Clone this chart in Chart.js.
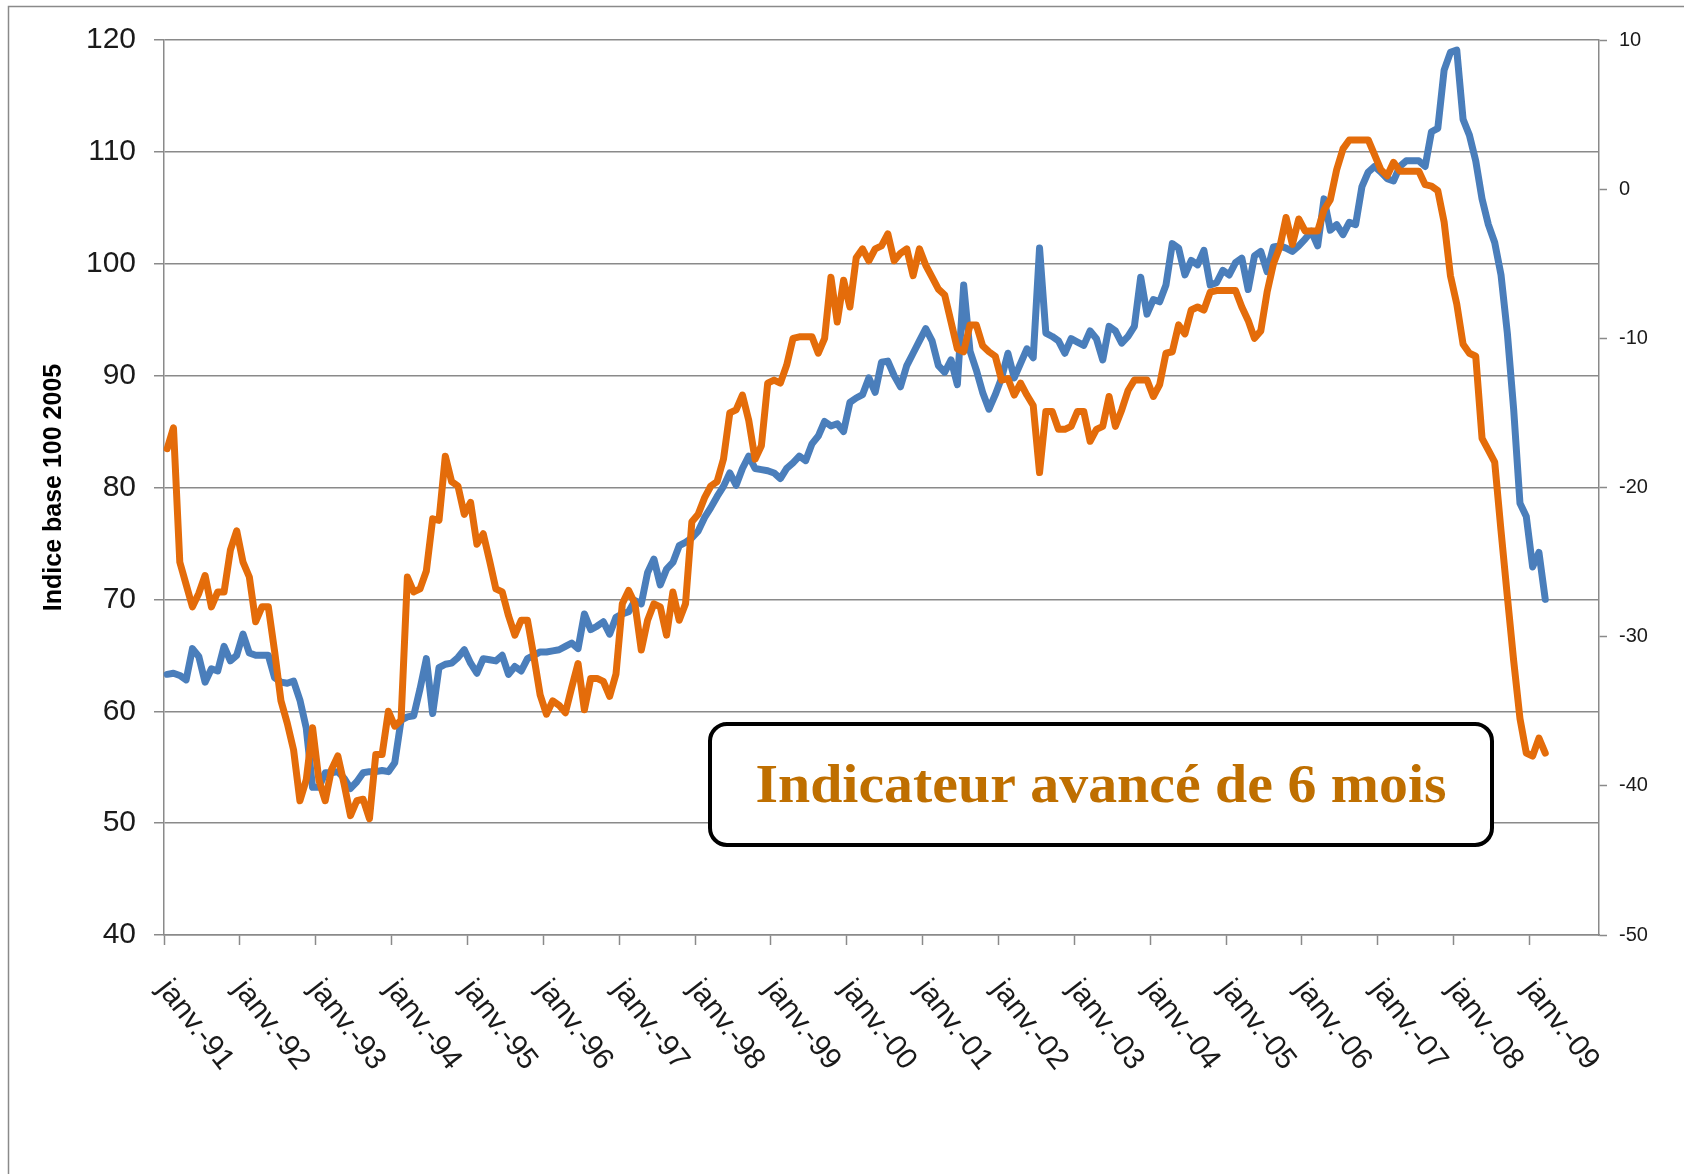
<!DOCTYPE html>
<html lang="fr">
<head>
<meta charset="utf-8">
<title>Indicateur avancé de 6 mois</title>
<script src="https://cdn.jsdelivr.net/npm/chart.js@4.4.1/dist/chart.umd.min.js"></script>
<style>
  html, body { margin: 0; padding: 0; background: #fff; }
</style>
</head>
<body>
<canvas id="chart" width="1684" height="1174"></canvas>
<script>
// Category axis: one category per month, janv. 1991 -> nov. 2009
const monthNames = ["janv.", "févr.", "mars", "avr.", "mai", "juin", "juil.", "août", "sept.", "oct.", "nov.", "déc."];
const firstYear = 1991;
const monthCount = 227;

// Labels written under the axis, one per January
const yearTicks = [
    "janv.-91", "janv.-92", "janv.-93", "janv.-94", "janv.-95", "janv.-96", "janv.-97",
    "janv.-98", "janv.-99", "janv.-00", "janv.-01", "janv.-02", "janv.-03", "janv.-04",
    "janv.-05", "janv.-06", "janv.-07", "janv.-08", "janv.-09",
];

// Tick values of both value axes
const leftTickValues = [40, 50, 60, 70, 80, 90, 100, 110, 120];
const rightTickValues = [-50, -40, -30, -20, -10, 0, 10];

// Blue series, left axis (indice base 100 2005), monthly from janv. 1991
const indiceValues = [
    63.3, 63.4, 63.2, 62.8, 65.6, 64.9, 62.6, 63.8, 63.6, 65.8, 64.5, 65.0,
    66.9, 65.2, 65.0, 65.0, 65.0, 63.0, 62.6, 62.5, 62.7, 61.0, 58.5, 53.2,
    53.2, 54.5, 54.5, 54.6, 54.0, 53.1, 53.7, 54.5, 54.6, 54.6, 54.7, 54.6,
    55.4, 59.2, 59.5, 59.6, 62.0, 64.7, 59.8, 63.9, 64.2, 64.3, 64.8, 65.5,
    64.3, 63.4, 64.7, 64.6, 64.5, 65.0, 63.3, 64.0, 63.6, 64.7, 65.0, 65.3,
    65.3, 65.4, 65.5, 65.8, 66.1, 65.6, 68.7, 67.3, 67.6, 68.0, 66.9, 68.4,
    68.7, 68.9, 69.9, 69.6, 72.4, 73.6, 71.3, 72.7, 73.3, 74.8, 75.1, 75.5,
    76.1, 77.3, 78.2, 79.2, 80.1, 81.3, 80.2, 81.7, 82.8, 81.7, 81.6, 81.5,
    81.3, 80.8, 81.7, 82.2, 82.8, 82.4, 83.9, 84.6, 85.9, 85.5, 85.7, 85.0,
    87.6, 88.0, 88.3, 89.8, 88.5, 91.2, 91.3, 90.0, 89.0, 90.9, 92.0, 93.1,
    94.2, 93.1, 90.9, 90.3, 91.4, 89.2, 98.1, 92.2, 90.5, 88.5, 87.0, 88.3,
    89.8, 92.0, 89.8, 91.1, 92.4, 91.6, 101.4, 93.8, 93.5, 93.1, 92.0, 93.3,
    93.0, 92.7, 94.0, 93.3, 91.4, 94.4, 94.0, 92.9, 93.5, 94.4, 98.8, 95.5,
    96.8, 96.6, 98.1, 101.8, 101.4, 99.0, 100.3, 99.9, 101.2, 98.1, 98.3, 99.4,
    99.0, 100.1, 100.5, 97.7, 100.7, 101.1, 99.3, 101.5, 101.6, 101.4, 101.1, 101.6,
    102.2, 102.9, 101.6, 105.8, 103.0, 103.5, 102.6, 103.7, 103.5, 106.9, 108.2, 108.7,
    108.2, 107.6, 107.4, 108.7, 109.2, 109.2, 109.2, 108.7, 111.8, 112.1, 117.3, 118.9,
    119.1, 112.9, 111.5, 109.2, 105.8, 103.5, 101.9, 99.0, 93.8, 87.0, 78.6, 77.4,
    72.9, 74.2, 70.0,
];

// Orange series, right axis (indicateur avancé de 6 mois), monthly from janv. 1991
const avanceValues = [
    -17.4, -16.0, -25.0, -26.5, -28.0, -27.1, -25.9, -28.0, -27.0, -27.0, -24.2, -22.9,
    -25.0, -26.0, -29.0, -28.0, -28.0, -31.0, -34.3, -35.8, -37.6, -41.0, -39.6, -36.1,
    -39.6, -41.0, -38.9, -38.0, -39.9, -42.0, -41.0, -40.9, -42.2, -37.9, -37.9, -35.0,
    -36.0, -35.6, -26.0, -27.0, -26.8, -25.6, -22.1, -22.2, -17.9, -19.6, -19.9, -21.8,
    -21.0, -23.8, -23.1, -24.9, -26.8, -27.0, -28.6, -29.9, -28.9, -28.9, -31.3, -33.9,
    -35.2, -34.3, -34.6, -35.1, -33.4, -31.8, -34.9, -32.8, -32.8, -33.0, -34.0, -32.5,
    -27.8, -26.9, -27.8, -30.9, -28.9, -27.8, -28.0, -29.9, -27.0, -28.9, -27.8, -22.3,
    -21.8, -20.7, -19.9, -19.6, -18.1, -15.0, -14.8, -13.8, -15.5, -18.1, -17.2, -13.0,
    -12.8, -13.0, -11.8, -10.0, -9.9, -9.9, -9.9, -11.0, -10.0, -5.9, -8.9, -6.1,
    -7.9, -4.6, -4.0, -4.8, -4.0, -3.8, -3.0, -4.8, -4.3, -4.0, -5.8, -4.0,
    -5.1, -5.9, -6.7, -7.1, -8.9, -10.7, -10.9, -9.1, -9.1, -10.5, -10.9, -11.2,
    -12.8, -12.7, -13.8, -13.0, -13.8, -14.5, -19.0, -14.9, -14.9, -16.1, -16.1, -15.9,
    -14.9, -14.9, -16.9, -16.1, -15.9, -13.9, -15.9, -14.8, -13.5, -12.8, -12.8, -12.8,
    -13.9, -13.1, -11.0, -10.9, -9.1, -9.7, -8.1, -7.9, -8.1, -6.9, -6.8, -6.8,
    -6.8, -6.8, -7.9, -8.8, -10.0, -9.5, -6.9, -5.0, -3.9, -1.9, -3.7, -2.0,
    -2.8, -2.8, -2.8, -1.4, -0.7, 1.3, 2.7, 3.3, 3.3, 3.3, 3.3, 2.3,
    1.3, 0.9, 1.8, 1.2, 1.2, 1.2, 1.2, 0.3, 0.2, -0.1, -2.2, -5.8,
    -7.7, -10.4, -11.0, -11.2, -16.7, -17.5, -18.3, -22.9, -27.3, -31.6, -35.5, -37.8,
    -38.0, -36.8, -37.8,
];

const boxText = "Indicateur avancé de 6 mois";

// Build month labels ("janv.-91", "févr.-91", ...)
const monthLabels = [];
for (let i = 0; i < monthCount; i++) {
    const year = firstYear + Math.floor(i / 12);
    monthLabels.push(monthNames[i % 12] + "-" + String(year).slice(2));
}

const gridGrey = "#8a8a8a";
const labelAngle = 52 * Math.PI / 180;

// White page, grey frame on the top and left edges
const framePlugin = {
    id: "frame",
    beforeDraw(chart) {
        const ctx = chart.ctx;
        ctx.save();
        ctx.fillStyle = "#ffffff";
        ctx.fillRect(0, 0, chart.width, chart.height);
        ctx.strokeStyle = gridGrey;
        ctx.lineWidth = 1.5;
        ctx.beginPath();
        ctx.moveTo(8.5, chart.height);
        ctx.lineTo(8.5, 6.5);
        ctx.lineTo(chart.width, 6.5);
        ctx.stroke();
        ctx.restore();
    },
};

// Rotated "janv.-yy" labels, starting at each January tick and running down to the right
const yearLabelPlugin = {
    id: "yearLabels",
    afterDraw(chart) {
        const ctx = chart.ctx;
        const x = chart.scales.x;
        const half = (x.getPixelForValue(1) - x.getPixelForValue(0)) / 2;
        ctx.save();
        ctx.font = '30px "Liberation Sans", Arial, sans-serif';
        ctx.fillStyle = "#1a1a1a";
        ctx.textAlign = "left";
        ctx.textBaseline = "middle";
        yearTicks.forEach((label, k) => {
            const px = x.getPixelForValue(k * 12) - half;
            ctx.save();
            ctx.translate(px - 1, x.top + 49);
            ctx.rotate(labelAngle);
            ctx.fillText(label, 0, 0);
            ctx.restore();
        });
        ctx.restore();
    },
};

// Rounded box with the caption
const boxPlugin = {
    id: "captionBox",
    afterDraw(chart) {
        const ctx = chart.ctx;
        const bx = 710, by = 724, bw = 782, bh = 121, r = 17;
        ctx.save();
        ctx.beginPath();
        ctx.moveTo(bx + r, by);
        ctx.arcTo(bx + bw, by, bx + bw, by + bh, r);
        ctx.arcTo(bx + bw, by + bh, bx, by + bh, r);
        ctx.arcTo(bx, by + bh, bx, by, r);
        ctx.arcTo(bx, by, bx + bw, by, r);
        ctx.closePath();
        ctx.fillStyle = "#ffffff";
        ctx.fill();
        ctx.lineWidth = 4;
        ctx.strokeStyle = "#000000";
        ctx.stroke();

        ctx.font = 'bold 54px "Liberation Serif", "Times New Roman", serif';
        ctx.fillStyle = "#bf6f00";
        ctx.textAlign = "center";
        ctx.textBaseline = "alphabetic";
        const w = ctx.measureText(boxText).width;
        const sx = 691 / w;
        ctx.translate(bx + bw / 2, 802);
        ctx.scale(sx, 1);
        ctx.fillText(boxText, 0, 0);
        ctx.restore();
    },
};

new Chart(document.getElementById("chart"), {
    type: "line",
    data: {
        labels: monthLabels,
        datasets: [
            {
                label: "Indicateur avancé de 6 mois",
                data: avanceValues,
                yAxisID: "y1",
                borderColor: "#e46c0a",
                borderWidth: 7,
                pointRadius: 0,
                tension: 0,
                borderJoinStyle: "round",
                borderCapStyle: "round",
                order: 1,
            },
            {
                label: "Indice base 100 2005",
                data: indiceValues,
                yAxisID: "y",
                borderColor: "#4a7ebb",
                borderWidth: 7,
                pointRadius: 0,
                tension: 0,
                borderJoinStyle: "round",
                borderCapStyle: "round",
                order: 2,
            },
        ],
    },
    options: {
        responsive: false,
        animation: false,
        devicePixelRatio: 1,
        layout: {
            padding: { left: 39, right: 0, top: 40, bottom: 0 },
        },
        plugins: {
            legend: { display: false },
            tooltip: { enabled: false },
        },
        scales: {
            x: {
                type: "category",
                offset: true,
                grid: {
                    offset: true,
                    drawOnChartArea: false,
                    drawTicks: true,
                    tickLength: 10,
                    tickWidth: 1.5,
                    tickColor: (ctx) => (ctx.index !== undefined && ctx.index % 12 === 0 ? gridGrey : "rgba(0,0,0,0)"),
                },
                border: { display: true, color: gridGrey, width: 1.5 },
                ticks: { display: false, autoSkip: false },
                afterFit: (scale) => { scale.height = 239; },
            },
            y: {
                position: "left",
                min: leftTickValues[0],
                max: leftTickValues[leftTickValues.length - 1],
                afterBuildTicks: (scale) => {
                    scale.ticks = leftTickValues.map((v) => ({ value: v }));
                },
                grid: {
                    color: gridGrey,
                    lineWidth: 1.5,
                    drawTicks: true,
                    tickLength: 10,
                },
                border: { display: true, color: gridGrey, width: 1.5 },
                ticks: {
                    padding: 18,
                    color: "#1a1a1a",
                    font: { family: '"Liberation Sans", Arial, sans-serif', size: 30 },
                },
                title: {
                    display: true,
                    text: "Indice base 100 2005",
                    color: "#000000",
                    padding: { top: 0, bottom: 0 },
                    font: { family: '"Liberation Sans", Arial, sans-serif', size: 25, weight: "bold" },
                },
                afterFit: (scale) => { scale.width = 125; },
            },
            y1: {
                position: "right",
                min: rightTickValues[0],
                max: rightTickValues[rightTickValues.length - 1],
                afterBuildTicks: (scale) => {
                    scale.ticks = rightTickValues.map((v) => ({ value: v }));
                },
                grid: {
                    drawOnChartArea: false,
                    drawTicks: true,
                    tickLength: 8,
                    tickColor: gridGrey,
                    tickWidth: 1.5,
                },
                border: { display: true, color: gridGrey, width: 1.5 },
                ticks: {
                    padding: 12,
                    color: "#1a1a1a",
                    font: { family: '"Liberation Sans", Arial, sans-serif', size: 20 },
                },
                afterFit: (scale) => { scale.width = 85; },
            },
        },
    },
    plugins: [framePlugin, yearLabelPlugin, boxPlugin],
});
</script>
</body>
</html>
